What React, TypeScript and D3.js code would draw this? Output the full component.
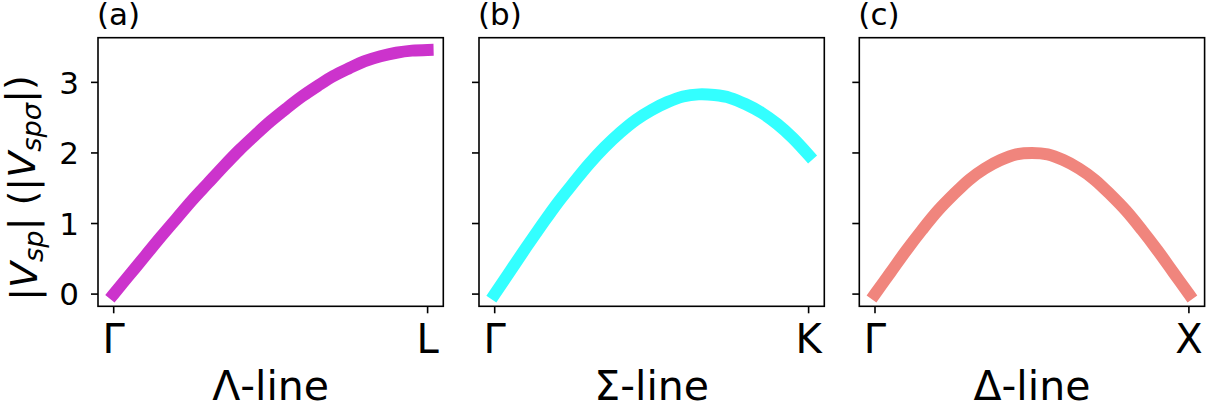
import React from "react";
import * as d3 from "d3";

// Fractional position along each high-symmetry line (Γ = 0, zone boundary = 1)
const pathFraction = [
  0, 0.05, 0.1, 0.15, 0.2, 0.25, 0.3, 0.35, 0.4, 0.45, 0.5,
  0.55, 0.6, 0.65, 0.7, 0.75, 0.8, 0.85, 0.9, 0.95, 1,
];

// |V_sp| in units of |V_spσ| along each line
const lambdaValues = [
  0, 0.27, 0.54, 0.81, 1.07, 1.33, 1.57, 1.81, 2.04, 2.25, 2.45,
  2.63, 2.8, 2.95, 3.09, 3.2, 3.3, 3.37, 3.42, 3.45, 3.46,
];
const sigmaValues = [
  0, 0.33, 0.66, 0.98, 1.29, 1.57, 1.84, 2.08, 2.29, 2.47, 2.61,
  2.72, 2.8, 2.83, 2.82, 2.78, 2.69, 2.57, 2.41, 2.21, 1.97,
];
const deltaValues = [
  0, 0.31, 0.62, 0.91, 1.18, 1.41, 1.62, 1.78, 1.9, 1.98, 2.0,
  1.98, 1.9, 1.78, 1.62, 1.41, 1.18, 0.91, 0.62, 0.31, 0,
];

const panelTags = ["(a)", "(b)", "(c)"];
const endPoints = ["L", "K", "X"];
const lineNames = ["Λ-line", "Σ-line", "Δ-line"];
const lineColors = ["#cc33cc", "#33ffff", "#f0857d"];
const seriesList = [lambdaValues, sigmaValues, deltaValues];
const yTicks = [0, 1, 2, 3];

const W = 1210;
const H = 409;
const FONT = "DejaVu Sans, sans-serif";

const plotTop = 37.7;
const plotBottom = 306.3;
const plotWidth = 345.3;
const panelLeft = [98, 479, 859.3];
const tickLen = 7;
const axisStroke = 1.6;

export default function App() {
  const allValues = seriesList.flat();
  const yMin = d3.min(allValues) as number;
  const yMax = d3.max(allValues) as number;
  const yPad = (yMax - yMin) * 0.05;
  const y = d3
    .scaleLinear()
    .domain([yMin - yPad, yMax + yPad])
    .range([plotBottom, plotTop]);

  return (
    <svg
      width={W}
      height={H}
      viewBox={`0 0 ${W} ${H}`}
      style={{ position: "absolute", left: 0, top: 0, background: "#fff" }}
      fontFamily={FONT}
    >
      <defs>
        {panelLeft.map((x0, i) => (
          <clipPath id={`clip-${i}`} key={i}>
            <rect x={x0} y={plotTop} width={plotWidth} height={plotBottom - plotTop} />
          </clipPath>
        ))}
      </defs>

      {panelLeft.map((x0, i) => {
        const x = d3
          .scaleLinear()
          .domain([-0.05, 1.05])
          .range([x0, x0 + plotWidth]);
        const line = d3
          .line<number>()
          .x((_, k) => x(pathFraction[k]))
          .y((v) => y(v))
          .curve(d3.curveCatmullRom);
        const xTickVals = [0, 1];
        const xTickText = ["Γ", endPoints[i]];
        return (
          <g key={i}>
            {/* curve */}
            <path
              d={line(seriesList[i]) || ""}
              fill="none"
              stroke={lineColors[i]}
              strokeWidth={12}
              strokeLinecap="square"
              strokeLinejoin="round"
              clipPath={`url(#clip-${i})`}
            />
            {/* frame */}
            <rect
              x={x0}
              y={plotTop}
              width={plotWidth}
              height={plotBottom - plotTop}
              fill="none"
              stroke="#000"
              strokeWidth={axisStroke}
            />
            {/* y ticks */}
            {yTicks.map((t) => (
              <g key={t}>
                <line
                  x1={x0 - tickLen}
                  x2={x0}
                  y1={y(t)}
                  y2={y(t)}
                  stroke="#000"
                  strokeWidth={axisStroke}
                />
                {i === 0 && (
                  <text
                    x={x0 - tickLen - 12}
                    y={y(t)}
                    dy="0.36em"
                    textAnchor="end"
                    fontSize={31}
                    fill="#000"
                  >
                    {t}
                  </text>
                )}
              </g>
            ))}
            {/* x ticks */}
            {xTickVals.map((t, k) => (
              <g key={k}>
                <line
                  x1={x(t)}
                  x2={x(t)}
                  y1={plotBottom}
                  y2={plotBottom + tickLen}
                  stroke="#000"
                  strokeWidth={axisStroke}
                />
                <text x={x(t)} y={353} textAnchor="middle" fontSize={40} fill="#000">
                  {xTickText[k]}
                </text>
              </g>
            ))}
            {/* axis label */}
            <text
              x={x0 + plotWidth / 2}
              y={400}
              textAnchor="middle"
              fontSize={41}
              fill="#000"
            >
              {lineNames[i]}
            </text>
            {/* panel tag */}
            <text x={x0 - 1} y={25} fontSize={31} fill="#000">
              {panelTags[i]}
            </text>
          </g>
        );
      })}

      {/* y-axis label */}
      <text
        transform={`translate(37, 188) rotate(-90)`}
        textAnchor="middle"
        fontSize={38}
        fill="#000"
      >
        <tspan>|</tspan>
        <tspan fontStyle="italic">V</tspan>
        <tspan fontStyle="italic" fontSize="72%" dy="0.22em">sp</tspan>
        <tspan dy="-0.22em">| (|</tspan>
        <tspan fontStyle="italic">V</tspan>
        <tspan fontStyle="italic" fontSize="72%" dy="0.22em">spσ</tspan>
        <tspan dy="-0.22em">|)</tspan>
      </text>
    </svg>
  );
}
